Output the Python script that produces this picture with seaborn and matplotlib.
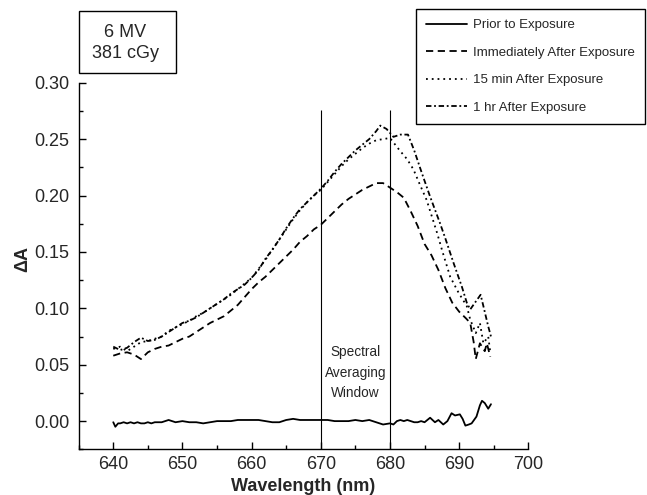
import matplotlib
matplotlib.use("Agg")
import matplotlib.pyplot as plt
import matplotlib.patches as mpatches
from matplotlib.ticker import MultipleLocator, FormatStrFormatter
import seaborn as sns
import pandas as pd

# values
series_names = ["Prior to Exposure", "Immediately After Exposure",
                "15 min After Exposure", "1 hr After Exposure"]

prior_wl = [640.0, 640.3, 640.7, 641, 641.5, 642, 642.5, 643, 643.5, 644, 644.5,
            645, 645.5, 646, 647, 647.5, 648, 648.5, 649, 650, 651, 652, 653,
            654, 655, 656, 657, 658, 659, 660, 661, 662, 663, 664, 665, 666,
            667, 668, 669, 670, 671, 672, 673, 674, 675, 676, 677, 678, 679,
            680, 680.5, 681, 681.5, 682, 682.5, 683, 683.5, 684, 684.5, 685,
            685.8, 686.5, 687, 687.7, 688.3, 688.9, 689.4, 690.1, 690.5, 690.9,
            691.4, 691.8, 692.5, 693.0, 693.3, 693.7, 694.2, 694.6]
prior_da = [-0.001, -0.005, -0.002, -0.002, -0.001, -0.002, -0.001, -0.002, -0.001,
            -0.002, -0.002, -0.001, -0.002, -0.001, -0.001, 0.000, 0.001, 0.000,
            -0.001, 0.000, -0.001, -0.001, -0.002, -0.001, 0.000, 0.000, 0.000,
            0.001, 0.001, 0.001, 0.001, 0.000, -0.001, -0.001, 0.001, 0.002,
            0.001, 0.001, 0.001, 0.001, 0.001, 0.000, 0.000, 0.000, 0.001, 0.000,
            0.001, -0.001, -0.003, -0.002, -0.003, 0.000, 0.001, 0.000, 0.001,
            0.000, -0.001, -0.001, 0.000, -0.001, 0.003, -0.001, 0.001, -0.003,
            0.000, 0.007, 0.005, 0.006, 0.002, -0.004, -0.003, -0.002, 0.004,
            0.014, 0.018, 0.016, 0.011, 0.015]

immed_wl = [640, 641, 642, 643, 644, 645, 646, 647, 648, 649, 650, 651, 652, 653,
            654, 655, 656, 657, 658, 659, 660, 661, 662, 663, 664, 665, 666, 667,
            668, 669, 670, 671, 672, 673, 674, 675, 676, 677, 678, 679, 680, 681,
            682, 683, 684, 685, 686, 687, 688, 689, 690, 691, 691.6, 692.1, 692.4,
            693.0, 693.7, 694.0, 694.5]
immed_da = [0.058, 0.060, 0.061, 0.059, 0.055, 0.061, 0.064, 0.066, 0.067, 0.070,
            0.073, 0.075, 0.079, 0.083, 0.087, 0.090, 0.093, 0.098, 0.103, 0.110,
            0.117, 0.123, 0.128, 0.134, 0.140, 0.146, 0.152, 0.159, 0.164, 0.170,
            0.174, 0.180, 0.186, 0.192, 0.197, 0.201, 0.205, 0.208, 0.211, 0.211,
            0.207, 0.203, 0.198, 0.186, 0.173, 0.157, 0.147, 0.134, 0.118, 0.105,
            0.097, 0.091, 0.087, 0.070, 0.055, 0.069, 0.062, 0.069, 0.057]

min15_wl = [640, 641, 642, 643, 644, 645, 646, 647, 648, 649, 650, 651, 652, 653,
            654, 655, 656, 657, 658, 659, 660, 661, 662, 663, 664, 665, 666, 667,
            668, 669, 670, 671, 672, 673, 674, 675, 676, 677, 678, 679, 680, 681.4,
            682.5, 683.4, 684.3, 685.3, 686.8, 687.6, 688.7, 689.9, 691.1, 691.6,
            692.4, 693.0, 693.5, 694.2, 694.5]
min15_da = [0.064, 0.066, 0.062, 0.066, 0.070, 0.071, 0.073, 0.075, 0.080, 0.083,
            0.086, 0.089, 0.093, 0.096, 0.100, 0.104, 0.108, 0.112, 0.117, 0.122,
            0.127, 0.135, 0.143, 0.152, 0.161, 0.170, 0.179, 0.187, 0.194, 0.200,
            0.205, 0.212, 0.219, 0.226, 0.232, 0.237, 0.242, 0.246, 0.249, 0.250,
            0.251, 0.240, 0.232, 0.223, 0.210, 0.196, 0.167, 0.150, 0.128, 0.114,
            0.102, 0.090, 0.078, 0.087, 0.069, 0.075, 0.061]

hr1_wl = [640, 641, 642, 643, 644, 645, 646, 647, 648, 649, 650, 651, 652, 653,
          654, 655, 656, 657, 658, 659, 660, 661, 662, 663, 664, 665, 666, 667,
          668, 669, 670, 671, 672, 673, 674, 675, 676, 677, 678, 678.6, 679.5,
          680.5, 681.5, 682.6, 683.5, 684.6, 685.8, 687.2, 688.0, 689.2, 690.4,
          691.1, 691.6, 692.4, 693.1, 693.5, 694.2, 694.6]
hr1_da = [0.066, 0.063, 0.065, 0.070, 0.074, 0.071, 0.072, 0.075, 0.079, 0.083,
          0.087, 0.089, 0.092, 0.096, 0.100, 0.104, 0.108, 0.113, 0.117, 0.121,
          0.127, 0.134, 0.144, 0.152, 0.161, 0.171, 0.180, 0.188, 0.194, 0.200,
          0.206, 0.213, 0.221, 0.228, 0.234, 0.240, 0.245, 0.250, 0.257, 0.262,
          0.259, 0.252, 0.254, 0.254, 0.240, 0.220, 0.199, 0.176, 0.162, 0.140,
          0.119, 0.105, 0.099, 0.106, 0.112, 0.102, 0.084, 0.075]

window_edges = [670, 680]
window_label = "Spectral\nAveraging\nWindow"
beam_label = "6 MV\n381 cGy"

frames = []
for name, wl, da in zip(series_names,
                        [prior_wl, immed_wl, min15_wl, hr1_wl],
                        [prior_da, immed_da, min15_da, hr1_da]):
    frames.append(pd.DataFrame({"wavelength": wl, "dA": da, "series": name}))
df = pd.concat(frames, ignore_index=True)

sns.set_theme(style="ticks")
plt.rcParams["font.family"] = ["Liberation Sans", "DejaVu Sans"]

fig = plt.figure(figsize=(6.47, 4.95), dpi=100)
ax = fig.add_axes([0.1216, 0.0923, 0.695, 0.7406])

palette = {n: "black" for n in series_names}
dashes = {
    "Prior to Exposure": "",
    "Immediately After Exposure": (4, 2.5),
    "15 min After Exposure": (1, 2.2),
    "1 hr After Exposure": (3, 1.5, 1, 1.5),
}
sns.lineplot(data=df, x="wavelength", y="dA", hue="series", style="series",
             hue_order=series_names, style_order=series_names,
             palette=palette, dashes=dashes, estimator=None, sort=False,
             linewidth=1.3, ax=ax)

handles, labels = ax.get_legend_handles_labels()
if ax.get_legend() is not None:
    ax.get_legend().remove()
for h in handles:
    h.set_linewidth(1.3)

ax.vlines(window_edges, -0.025, 0.276, color="black", linewidth=0.8)
ax.text(sum(window_edges) / 2, 0.043, window_label, ha="center", va="center",
        fontsize=9.8, linespacing=1.6)

ax.set_xlim(635, 700)
ax.set_ylim(-0.025, 0.30)
ax.xaxis.set_major_locator(MultipleLocator(10))
ax.xaxis.set_minor_locator(MultipleLocator(5))
ax.yaxis.set_major_locator(MultipleLocator(0.05))
ax.yaxis.set_minor_locator(MultipleLocator(0.025))
ax.yaxis.set_major_formatter(FormatStrFormatter("%.2f"))
ax.tick_params(which="major", direction="in", length=5, width=1.0,
               labelsize=13, color="black")
ax.tick_params(axis="y", which="major", pad=6.5)
ax.tick_params(axis="x", which="major", pad=5)
ax.tick_params(which="minor", direction="in", length=3, width=1.0, color="black")

sns.despine(ax=ax)
for side in ["left", "bottom"]:
    ax.spines[side].set_linewidth(1.0)
    ax.spines[side].set_color("black")

ax.set_xlabel("Wavelength (nm)", fontsize=13, fontweight="bold")
ax.set_ylabel("ΔA", fontsize=13, fontweight="bold")
ax.xaxis.set_label_coords(0.5, -0.077)
ax.yaxis.set_label_coords(-0.105, 0.52)

fig.legend(handles, labels, loc="upper right",
           bbox_to_anchor=(645 / 647, 1 - 9.3 / 495), bbox_transform=fig.transFigure,
           fontsize=9.5, frameon=True, fancybox=False, edgecolor="black",
           framealpha=1, borderaxespad=0, borderpad=0.75, labelspacing=1.15,
           handlelength=3.1, handletextpad=0.5)
fig.legends[0].get_frame().set_linewidth(1.0)

box = mpatches.Rectangle((79 / 647, 1 - 73 / 495), 97 / 647, 62 / 495,
                         transform=fig.transFigure, fill=False,
                         edgecolor="black", linewidth=1.0)
fig.patches.append(box)
fig.text(125 / 647, 1 - 43 / 495, beam_label, ha="center", va="center",
         fontsize=13, linespacing=1.25)

fig.savefig("out.png", dpi=100)
